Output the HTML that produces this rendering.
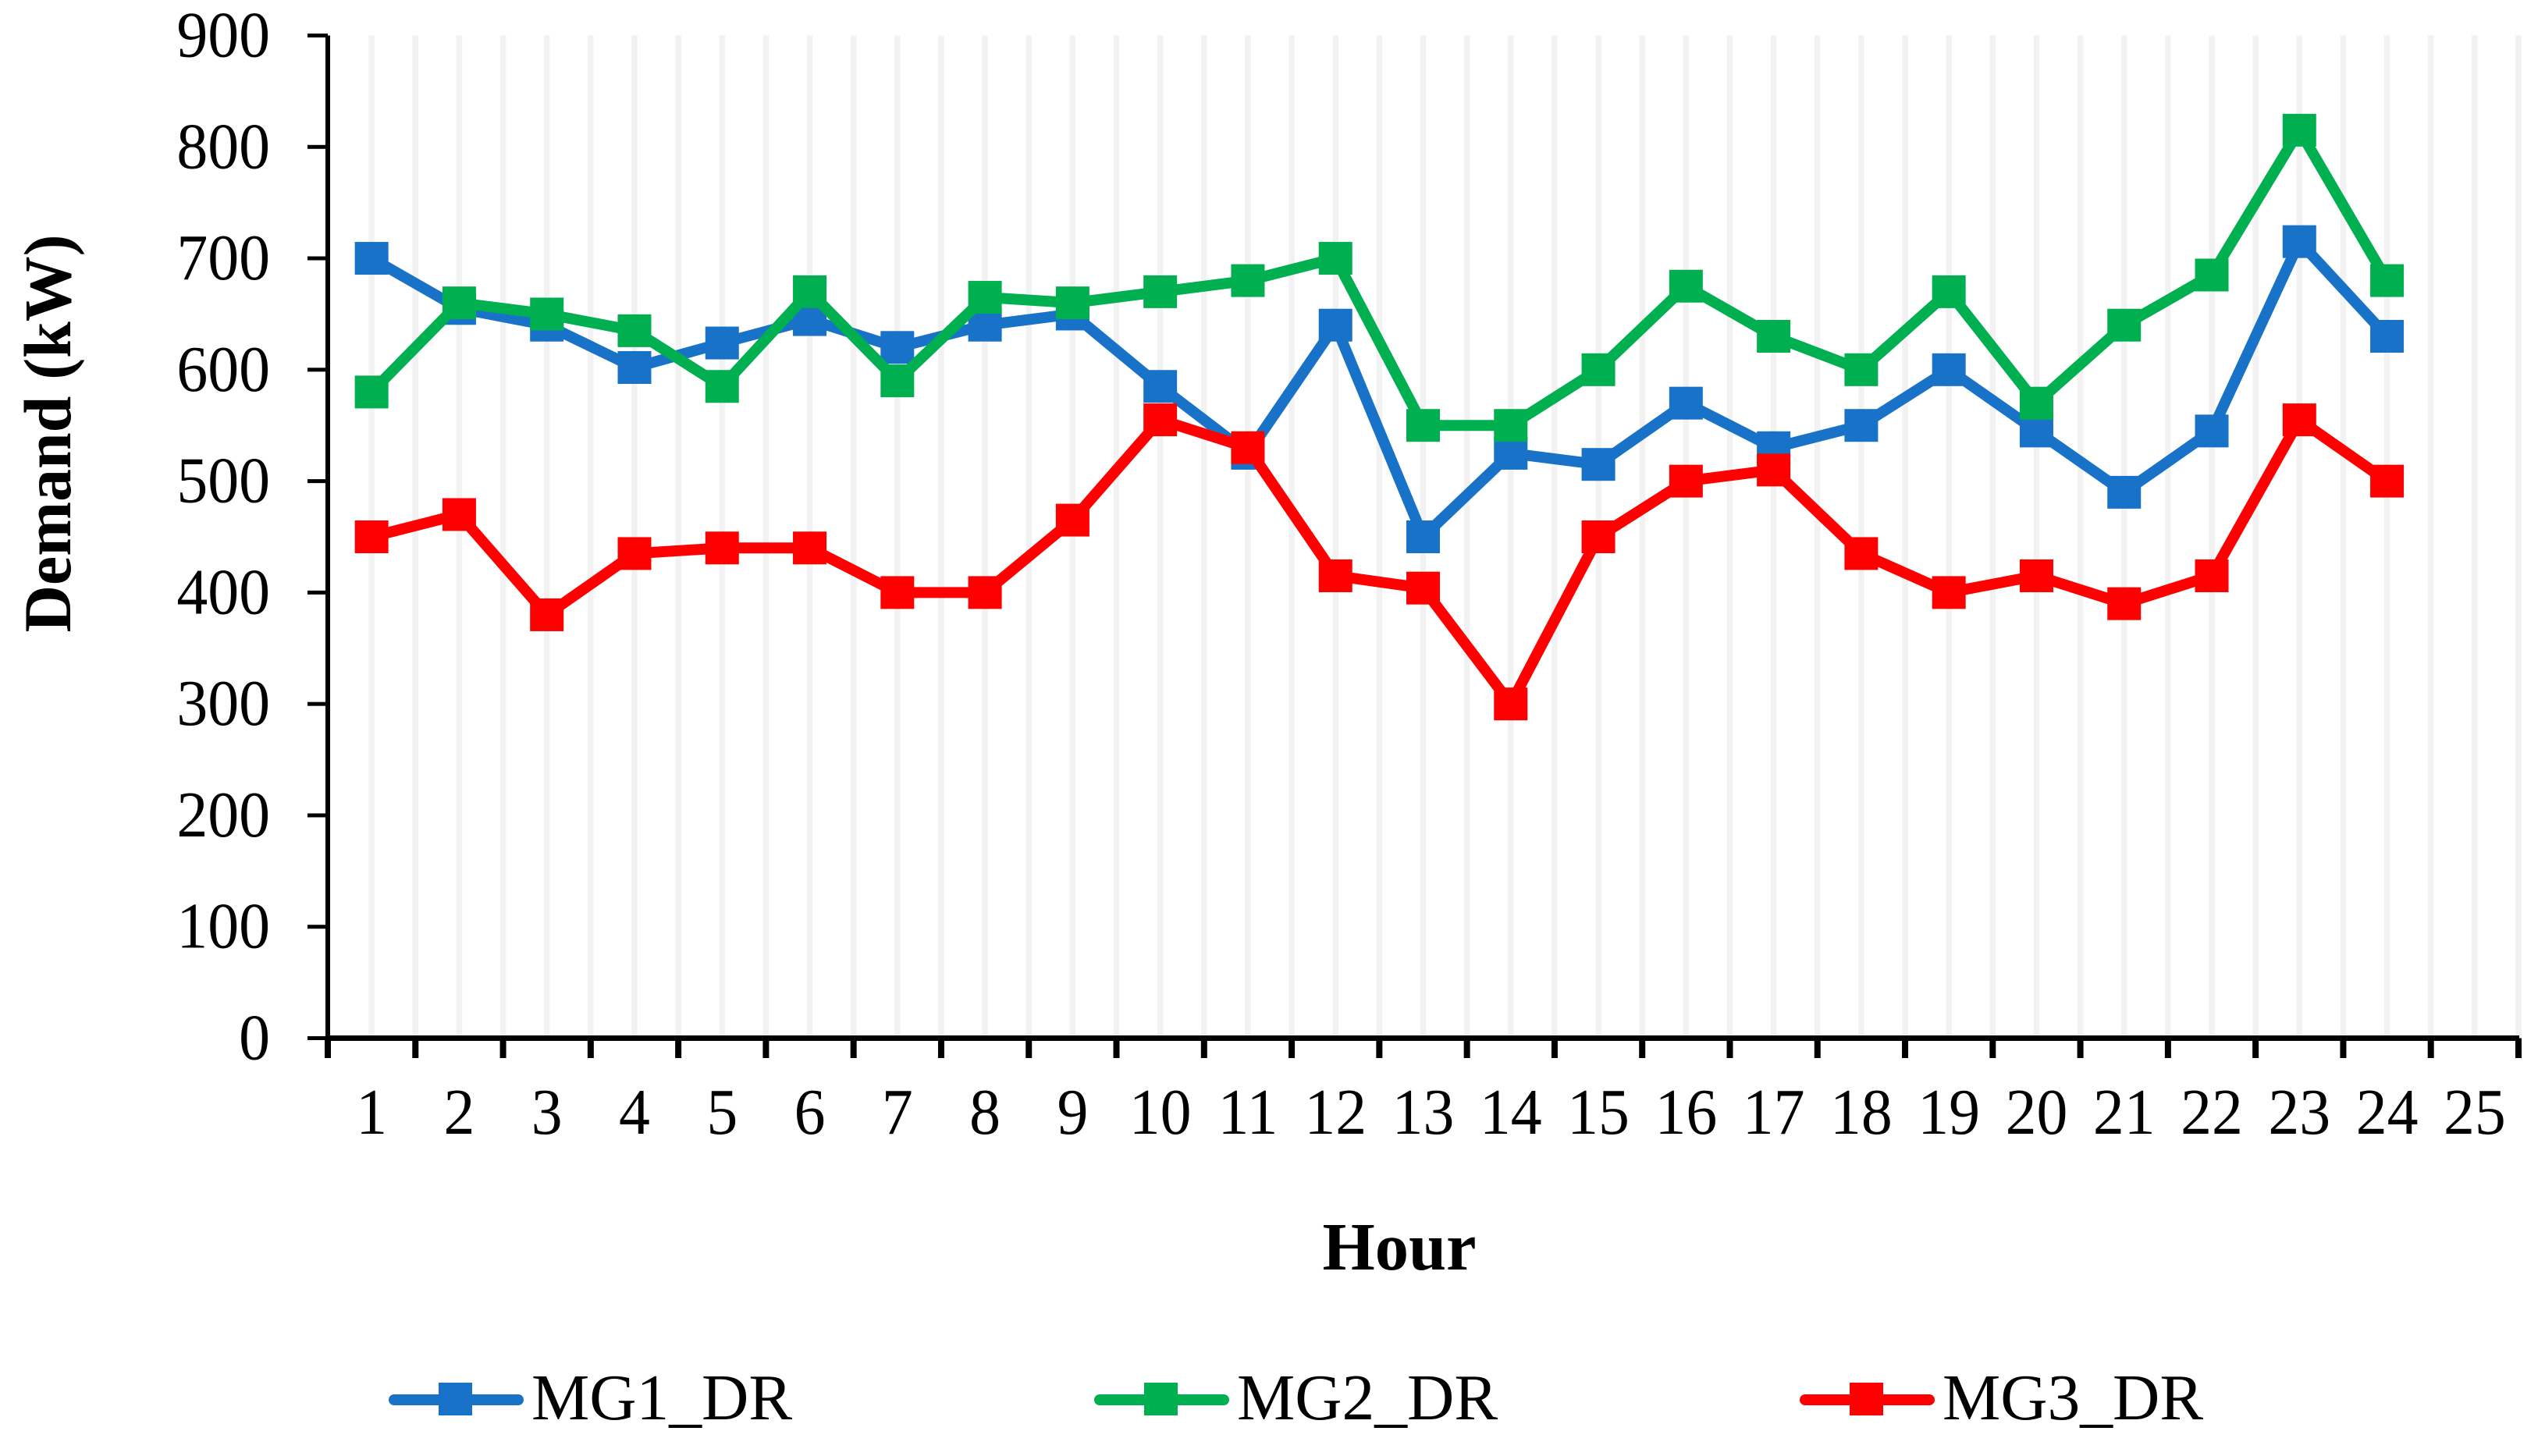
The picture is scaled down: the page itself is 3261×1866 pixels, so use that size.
<!DOCTYPE html>
<html lang="en">
<head>
<meta charset="utf-8">
<title>Demand per hour</title>
<style>
html,body{margin:0;padding:0;background:#fff;width:3261px;height:1866px;overflow:hidden}
svg{display:block}
text{font-family:"Liberation Serif","Times New Roman",serif;fill:#000}
</style>
</head>
<body>
<svg id="chart" xmlns="http://www.w3.org/2000/svg" width="3261" height="1866" viewBox="0 0 3261 1866">
  <rect x="0" y="0" width="3261" height="1866" fill="#ffffff"/>
  <g id="grid"></g>
  <g id="series"></g>
  <g id="axes"></g>
  <text x="1793" y="1627" font-size="86.5" font-weight="bold" text-anchor="middle">Hour</text>
  <text transform="translate(90,555.5) rotate(-90) scale(0.975,1)" font-size="86" font-weight="bold" text-anchor="middle">Demand (kW)</text>
  <g id="legend"></g>
</svg>
<script>
const hours = [1,2,3,4,5,6,7,8,9,10,11,12,13,14,15,16,17,18,19,20,21,22,23,24];
const xTickLabels = [1,2,3,4,5,6,7,8,9,10,11,12,13,14,15,16,17,18,19,20,21,22,23,24,25];
const yTickLabels = [0,100,200,300,400,500,600,700,800,900];
const seriesNames = ['MG1_DR','MG2_DR','MG3_DR'];
const seriesColors = ['#1872C8','#00B050','#FF0000'];
const mg1Values = [700,655,640,602,624,645,620,640,650,585,525,640,450,525,515,570,530,550,600,545,490,545,715,630];
const mg2Values = [580,660,650,635,585,670,590,665,660,670,680,700,550,550,600,675,630,600,670,570,640,685,815,680];
const mg3Values = [450,470,380,435,440,440,400,400,465,555,530,415,404,300,450,500,510,435,400,415,390,415,555,500];
const allSeries = [mg1Values, mg2Values, mg3Values];

const NS = 'http://www.w3.org/2000/svg';
const plotLeft = 420, plotRight = 3227, plotTop = 45.5, plotBottom = 1330.5;
const yMax = 900;
const catWidth = (plotRight - plotLeft) / xTickLabels.length;
const digitSquash = 0.95;

function xEdge(i){ return plotLeft + catWidth * i; }
function xCenter(hour){ return plotLeft + catWidth * (hour - 0.5); }
function yScale(v){ return plotBottom - (v / yMax) * (plotBottom - plotTop); }
function make(tag, attrs, parent){
  const el = document.createElementNS(NS, tag);
  for (const k in attrs) el.setAttribute(k, attrs[k]);
  parent.appendChild(el);
  return el;
}

const gridG = document.getElementById('grid');
const axesG = document.getElementById('axes');
const seriesG = document.getElementById('series');
const legendG = document.getElementById('legend');

/* vertical gridlines at each tick and each category centre */
xTickLabels.forEach(function(label, i){
  const mid = make('line', {x1:xCenter(label), x2:xCenter(label), y1:plotTop, y2:plotBottom, stroke:'#F2F2F2', 'stroke-width':7.5}, gridG);
  
  
  const edge = make('line', {x1:xEdge(i + 1), x2:xEdge(i + 1), y1:plotTop, y2:plotBottom, stroke:'#F2F2F2', 'stroke-width':7.5}, gridG);
  
  
});

/* axes */
const yAxisLine = make('rect', {x:plotLeft - 3, y:plotTop, width:6, height:plotBottom - plotTop, fill:'#000'}, axesG);


const xAxisLine = make('rect', {x:plotLeft - 3, y:plotBottom - 3.5, width:plotRight - plotLeft + 4, height:7, fill:'#000'}, axesG);



yTickLabels.forEach(function(v){
  const y = yScale(v);
  const tick = make('rect', {x:394, y:y - 2.5, width:plotLeft - 394, height:5, fill:'#000'}, axesG);
  
  
  const t = make('text', {transform:'translate(346,' + (y + 27) + ') scale(' + digitSquash + ',1)', 'font-size':84, 'text-anchor':'end'}, axesG);
  t.textContent = v;
  
  
});

for (let i = 0; i <= xTickLabels.length; i++) {
  const tick = make('rect', {x:xEdge(i) - 4, y:plotBottom, width:8, height:25.5, fill:'#000'}, axesG);
  
  
}
xTickLabels.forEach(function(label){
  const t = make('text', {transform:'translate(' + xCenter(label) + ',1453) scale(' + digitSquash + ',1)', 'font-size':84, 'text-anchor':'middle'}, axesG);
  t.textContent = label;
  
  
});

/* series */
allSeries.forEach(function(values, s){
  const key = seriesNames[s].toLowerCase().replace('_', '-');
  const pts = values.map(function(v, i){ return xCenter(hours[i]) + ',' + yScale(v); }).join(' ');
  const line = make('polyline', {points:pts, fill:'none', stroke:seriesColors[s], 'stroke-width':14, 'stroke-linejoin':'round', 'stroke-linecap':'round'}, seriesG);
  
  
  values.forEach(function(v, i){
    const m = make('rect', {x:xCenter(hours[i]) - 21.5, y:yScale(v) - 21, width:43, height:42, fill:seriesColors[s]}, seriesG);
    
    
  });
});

/* legend */
const legendX = 498, legendStep = 904, legendY = 1794;
seriesNames.forEach(function(name, s){
  const ox = legendX + legendStep * s;
  const key = name.toLowerCase().replace('_', '-');
  const g = make('g', {}, legendG);
  
  
  const l = make('line', {x1:ox + 7, x2:ox + 166, y1:legendY, y2:legendY, stroke:seriesColors[s], 'stroke-width':14, 'stroke-linecap':'round'}, g);
  
  
  const m = make('rect', {x:ox + 64, y:legendY - 22, width:43, height:42, fill:seriesColors[s]}, g);
  
  
  const t = make('text', {x:ox + 183, y:1819, 'font-size':83.5}, g);
  t.textContent = name;
  
  
});
</script>
</body>
</html>
